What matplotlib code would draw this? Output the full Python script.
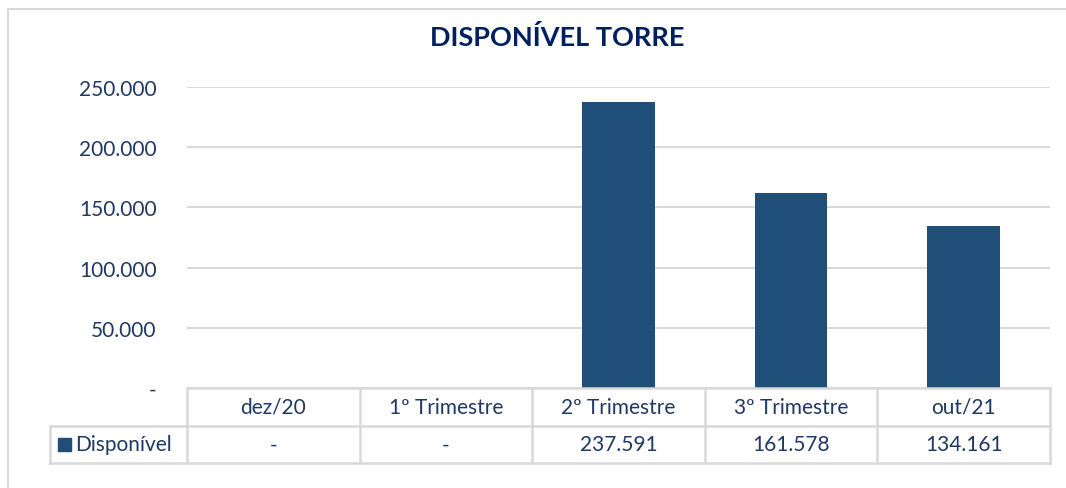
import matplotlib.pyplot as plt
from matplotlib.patches import Rectangle
from matplotlib.ticker import FuncFormatter

# dados
categorias = ["dez/20", "1º Trimestre", "2º Trimestre", "3º Trimestre", "out/21"]
disponivel = [0, 0, 237591, 161578, 134161]
serie_nome = "Disponível"
titulo = "DISPONÍVEL TORRE"

cor_barra = "#1F4E79"
cor_texto = "#1F3864"
cor_linha = "#D9D9D9"
fonte = ["Lato", "DejaVu Sans"]


def fmt(v):
    if v == 0:
        return "-"
    return f"{v:,.0f}".replace(",", ".")


def run():
    plt.rcParams['font.family'] = fonte
    W, H = 1066, 489
    fig = plt.figure(figsize=(W / 100, H / 100), dpi=100)

    # borda do gráfico
    fig.patches.append(Rectangle((8 / W, -0.1), 1.2, (H - 10) / H + 0.1,
                                 transform=fig.transFigure, fill=False,
                                 edgecolor=cor_linha, lw=1.5))

    ax = fig.add_axes([187 / W, 100 / H, 863 / W, 301 / H])
    x = list(range(len(categorias)))
    ax.bar(x, disponivel, width=0.42, color=cor_barra, zorder=3)
    ax.set_xlim(-0.5, len(categorias) - 0.5)
    ax.set_ylim(0, 250000)
    ax.set_yticks(range(0, 250001, 50000))
    ax.yaxis.set_major_formatter(FuncFormatter(lambda v, p: fmt(v)))
    ax.grid(axis='y', color=cor_linha, lw=1.5, zorder=0)
    for s in ax.spines.values():
        s.set_visible(False)
    ax.tick_params(axis='y', length=0, pad=22, labelsize=15, labelcolor=cor_texto)
    ax.tick_params(axis='x', length=0, labelbottom=False)

    # tabela de dados
    tr = ax.get_xaxis_transform()
    y0, y1, y2 = 0, -38 / 301, -75 / 301
    xl = -0.5 - 137 / 172.6
    kw = dict(color=cor_linha, lw=1.8, transform=tr, clip_on=False, zorder=4)
    ax.plot([-0.5, len(categorias) - 0.5], [y0, y0], **kw)
    ax.plot([xl, len(categorias) - 0.5], [y1, y1], **kw)
    ax.plot([xl, len(categorias) - 0.5], [y2, y2], **kw)
    ax.plot([xl, xl], [y1, y2], **kw)
    for i in range(len(categorias) + 1):
        ax.plot([i - 0.5, i - 0.5], [y0, y2], **kw)
    for i, (c, v) in enumerate(zip(categorias, disponivel)):
        ax.text(i, (y0 + y1) / 2, c, transform=tr, ha='center', va='center',
                fontsize=15, color=cor_texto)
        ax.text(i, (y1 + y2) / 2, fmt(v), transform=tr, ha='center', va='center',
                fontsize=15, color=cor_texto)
    # legenda
    fig.patches.append(Rectangle((58 / W, (H - 452) / H), 13 / W, 13 / H,
                                 transform=fig.transFigure, color=cor_barra))
    fig.text(75 / W, (H - 445) / H, serie_nome, ha='left', va='center',
             fontsize=15, color=cor_texto)

    fig.text(557 / W, (H - 38) / H, titulo, ha='center', va='center',
             fontsize=19.5, fontweight='bold', color="#002060")

    fig.savefig("out.png", dpi=100)


if __name__ == "__main__":
    run()
